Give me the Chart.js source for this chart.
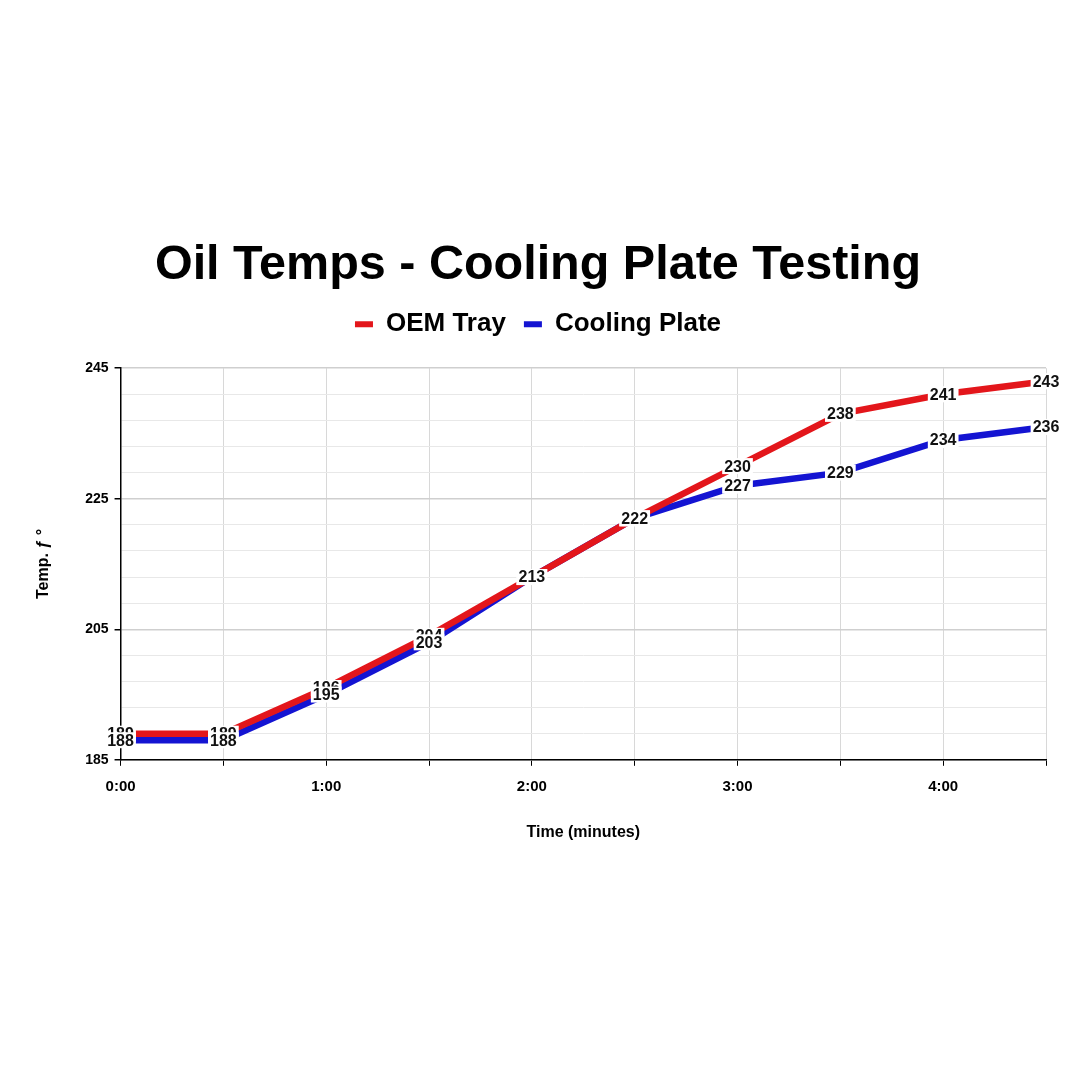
<!DOCTYPE html>
<html>
<head>
<meta charset="utf-8">
<script src="https://cdn.jsdelivr.net/npm/chart.js@4.4.1/dist/chart.umd.min.js"></script>
<style>
html,body{margin:0;padding:0;background:#fff;}
#wrap{width:1080px;height:1080px;position:relative;}
</style>
</head>
<body>
<div id="wrap"><canvas id="c" width="1080" height="1080"></canvas></div>
<script>
const times = ['0:00','0:30','1:00','1:30','2:00','2:30','3:00','3:30','4:00','4:30'];
const oemTray = [189, 189, 196, 204, 213, 222, 230, 238, 241, 243];
const coolingPlate = [188, 188, 195, 203, 213, 222, 227, 229, 234, 236];
const seriesNames = ['OEM Tray', 'Cooling Plate'];
const yMin = 185, yMax = 245, yStep = 4, yLabelEvery = 20;

const RED = '#e3161b';
const BLUE = '#1414d2';
const FONT = "'Liberation Sans', Arial, sans-serif";

const labelPlugin = {
  id: 'pointLabels',
  afterDatasetsDraw(chart) {
    const ctx = chart.ctx;
    ctx.save();
    ctx.font = 'bold 16px ' + FONT;
    ctx.textAlign = 'center';
    ctx.textBaseline = 'middle';
    chart.data.datasets.forEach((ds, di) => {
      const meta = chart.getDatasetMeta(di);
      meta.data.forEach((pt, i) => {
        const txt = String(ds.data[i]);
        const w = ctx.measureText(txt).width;
        ctx.fillStyle = '#fff';
        ctx.fillRect(pt.x - w / 2 - 2, pt.y - 8, w + 4, 16);
        ctx.fillStyle = '#111';
        ctx.fillText(txt, pt.x, pt.y + 1);
      });
    });
    ctx.restore();
  }
};

const legendMargin = {
  id: 'legendMargin',
  beforeInit(chart) {
    const origFit = chart.legend.fit;
    chart.legend.fit = function () {
      origFit.call(this);
      this.height += 21;
    };
  }
};

new Chart(document.getElementById('c'), {
  type: 'line',
  data: {
    labels: times,
    datasets: [
      { label: seriesNames[0], data: oemTray, borderColor: RED, backgroundColor: RED, borderWidth: 6.5, pointRadius: 0, tension: 0 },
      { label: seriesNames[1], data: coolingPlate, borderColor: BLUE, backgroundColor: BLUE, borderWidth: 6.5, pointRadius: 0, tension: 0 }
    ]
  },
  options: {
    responsive: false,
    animation: false,
    layout: { padding: { top: 237, left: 30, right: 34, bottom: 234 } },
    plugins: {
      tooltip: { enabled: false },
      title: {
        display: true,
        text: 'Oil Temps - Cooling Plate Testing',
        color: '#000',
        font: { family: FONT, size: 48.5, weight: 'bold' },
        padding: { top: 0, bottom: -2 }
      },
      legend: {
        display: true,
        labels: {
          color: '#000',
          font: { family: FONT, size: 26, weight: 'bold' },
          boxWidth: 18,
          boxHeight: 6,
          padding: 18,
          generateLabels(chart) {
            const items = Chart.defaults.plugins.legend.labels.generateLabels(chart);
            items.forEach(it => { it.lineWidth = 0; });
            return items;
          }
        }
      }
    },
    scales: {
      x: {
        type: 'category',
        offset: false,
        border: { color: '#000', width: 1.5 },
        grid: {
          color: '#d8d8d8',
          tickColor: '#000',
          tickLength: 6,
          drawTicks: true
        },
        ticks: {
          color: '#000',
          font: { family: FONT, size: 15, weight: 'bold' },
          maxRotation: 0,
          autoSkip: false,
          padding: 12,
          callback: function (v, i) { return (i % 2 === 0) ? times[i] : ''; }
        },
        title: {
          display: true,
          text: 'Time (minutes)',
          color: '#000',
          font: { family: FONT, size: 16, weight: 'bold' },
          padding: { top: 15 }
        }
      },
      y: {
        min: yMin,
        max: yMax,
        border: { color: '#000', width: 1.5 },
        grid: {
          color: (c) => (c.tick && (c.tick.value - yMin) % yLabelEvery === 0) ? '#cfcfcf' : '#e8e8e8',
          lineWidth: (c) => (c.tick && (c.tick.value - yMin) % yLabelEvery === 0) ? 1.5 : 1,
          tickColor: (c) => (c.tick && (c.tick.value - yMin) % yLabelEvery === 0) ? '#000' : 'rgba(0,0,0,0)',
          tickLength: 6
        },
        ticks: {
          stepSize: yStep,
          autoSkip: false,
          color: '#000',
          font: { family: FONT, size: 14, weight: 'bold' },
          padding: 6,
          callback: (v) => ((v - yMin) % yLabelEvery === 0) ? String(v) : ''
        },
        title: {
          display: true,
          text: 'Temp. ƒ °',
          color: '#000',
          font: { family: FONT, size: 16, weight: 'bold' },
          padding: { bottom: 26 }
        }
      }
    }
  },
  plugins: [labelPlugin, legendMargin]
});
</script>
</body>
</html>
